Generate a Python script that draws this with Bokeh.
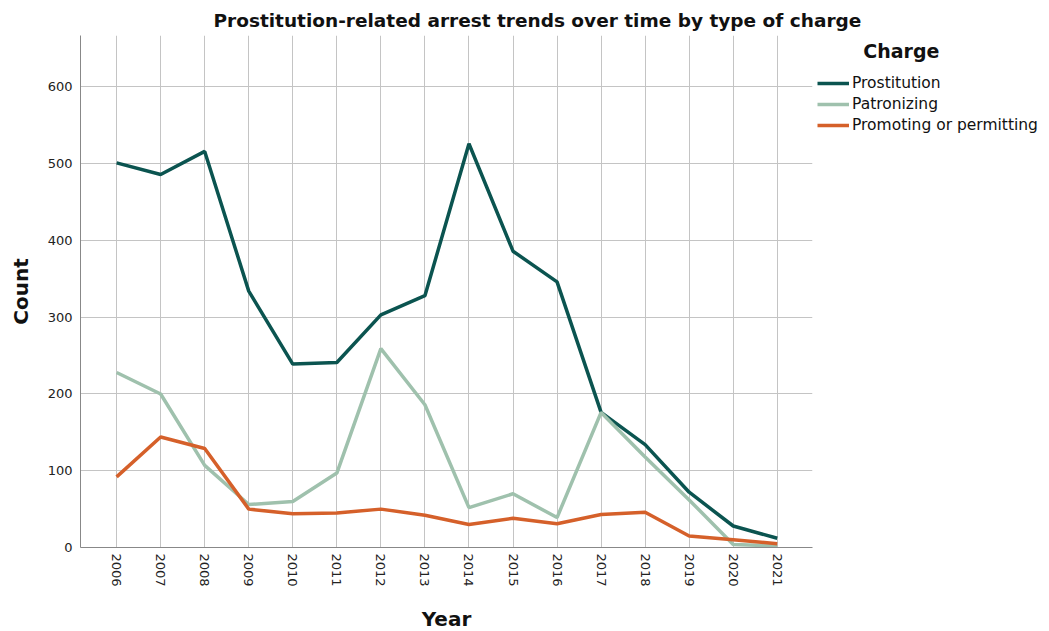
import math
from bokeh.plotting import figure
from bokeh.models import Legend, LegendItem, FixedTicker, Range1d
from bokeh.embed import file_html
from bokeh.resources import INLINE

years = list(range(2006, 2022))
prostitution = [501, 486, 516, 334, 239, 241, 303, 328, 526, 386, 346, 176, 134, 72, 28, 12]
patronizing = [228, 200, 107, 56, 60, 97, 259, 186, 52, 70, 39, 176, 118, 62, 4, 2]
promoting = [92, 144, 129, 50, 44, 45, 50, 42, 30, 38, 31, 43, 46, 15, 10, 5]
series_names = ["Prostitution", "Patronizing", "Promoting or permitting"]
colors = ["#0b5450", "#9fc1ad", "#d5602a"]
y_ticks = [0, 100, 200, 300, 400, 500, 600]

FONT = "DejaVu Sans"

p = figure(frame_width=732, frame_height=512, output_backend="svg", toolbar_location=None,
           x_range=Range1d(2005.18, 2021.8), y_range=Range1d(0, 667),
           min_border_left=80, min_border_right=221, min_border_top=35, min_border_bottom=66)

p.title.text = "Prostitution-related arrest trends over time by type of charge"
p.title.text_font = FONT
p.title.text_font_size = "18.5px"
p.title.text_font_style = "bold"
p.title.text_color = "#111111"
p.title.align = "left"
p.title.offset = 133
p.title.standoff = 10

renderers = []
for vals, c in zip([prostitution, patronizing, promoting], colors):
    r = p.line(years, vals, line_color=c, line_width=3.5)
    renderers.append(r)

legend = Legend(items=[LegendItem(label=n, renderers=[r]) for n, r in zip(series_names, renderers)],
                location="top_left", orientation="vertical")
legend.title = "\u00a0" * 7 + "Charge"
legend.title_text_font = FONT
legend.title_text_font_size = "19px"
legend.title_text_font_style = "bold"
legend.title_text_color = "#111111"
legend.title_standoff = 12
legend.label_text_font = FONT
legend.label_text_font_size = "15.5px"
legend.label_text_color = "#111111"
legend.label_height = 16
legend.glyph_height = 16
legend.glyph_width = 32
legend.label_standoff = 3
legend.spacing = 3
legend.padding = 0
legend.margin = 5
legend.border_line_alpha = 0
legend.background_fill_alpha = 0
p.add_layout(legend, "right")

p.xaxis.ticker = FixedTicker(ticks=years)
p.yaxis.ticker = FixedTicker(ticks=y_ticks)
p.xaxis.major_label_orientation = -math.pi / 2
p.xaxis.axis_label = "Year"
p.yaxis.axis_label = "Count"
for ax in [p.xaxis, p.yaxis]:
    ax.axis_label_text_font = FONT
    ax.axis_label_text_font_size = "20px"
    ax.axis_label_text_font_style = "bold"
    ax.axis_label_text_color = "#111111"
    ax.major_label_text_font = FONT
    ax.major_label_text_font_size = "13px"
    ax.major_label_text_color = "#222222"
    ax.major_tick_line_color = None
    ax.minor_tick_line_color = None
    ax.major_tick_out = 0
    ax.major_tick_in = 0
    ax.minor_tick_out = 0
    ax.axis_line_color = "#888888"
p.xaxis.axis_label_standoff = 17
p.yaxis.axis_label_standoff = 12
p.xaxis.major_label_standoff = 6
p.yaxis.major_label_standoff = 8

p.xgrid.grid_line_color = "#c4c4c4"
p.ygrid.grid_line_color = "#c4c4c4"
p.xgrid.grid_line_width = 1
p.ygrid.grid_line_width = 1
p.outline_line_color = None

open("out.html", "w").write(file_html(p, INLINE))
